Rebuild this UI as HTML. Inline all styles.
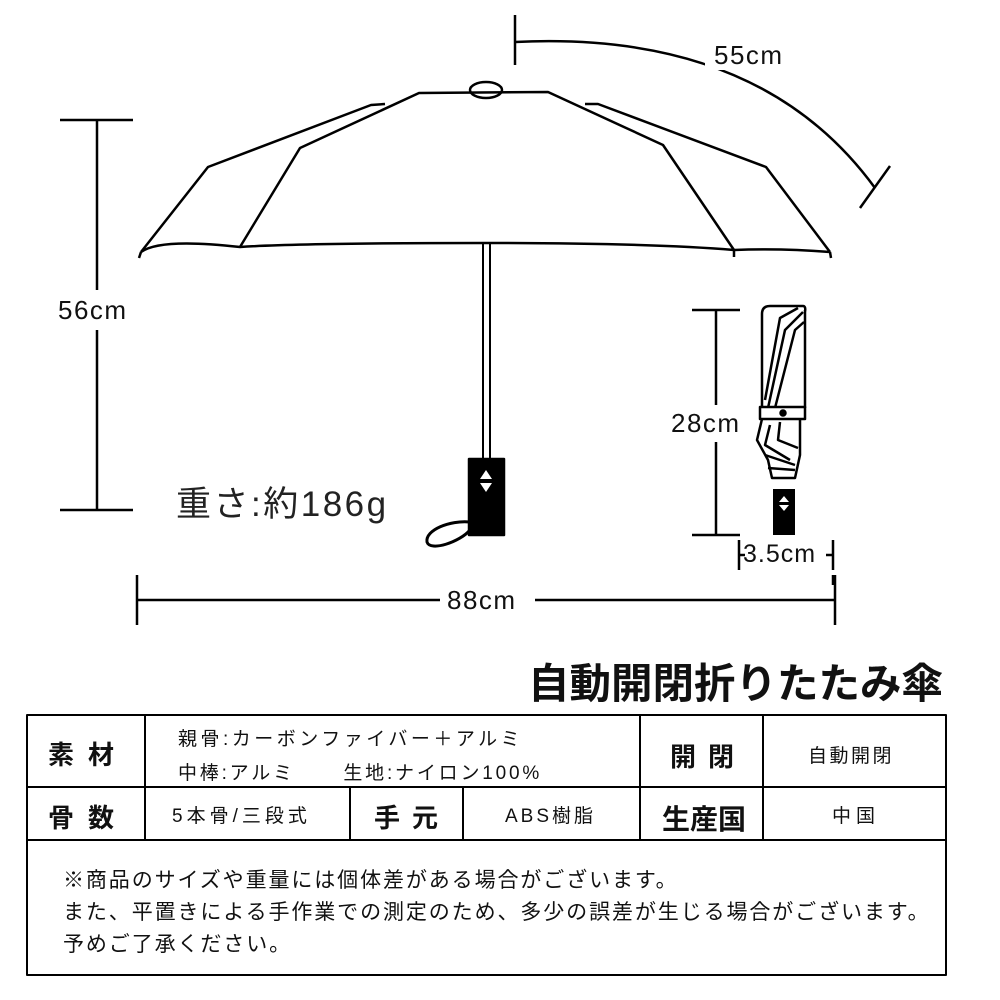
<!DOCTYPE html>
<html><head><meta charset="utf-8"><style>
body{margin:0;width:1000px;height:1000px;background:#fff;position:relative;overflow:hidden;font-family:"Liberation Sans","Noto Sans CJK JP",sans-serif;color:#111}
.t{position:absolute;white-space:nowrap}
svg{position:absolute;left:0;top:0}
.d{font-size:26px;letter-spacing:1.5px}
.c{font-size:19px;letter-spacing:2.5px}
.h{font-size:26px;font-weight:bold}
</style></head><body>
<svg width="1000" height="1000" viewBox="0 0 1000 1000" fill="none" stroke="#000" stroke-width="2.5" stroke-linejoin="round">
<ellipse cx="486" cy="90" rx="16" ry="8" fill="#fff"/>
<path d="M141,252 L208,167 L371,105 L385,104"/>
<path d="M240,247 L300,148 L419,93 L548,92 L663,145 L734,250"/>
<path d="M585,104 L598,104 L766,167 L830,252"/>
<path d="M141,252 Q160,238 240,247 Q300,243 486,243 Q650,243 734,250 Q780,248 830,252"/>
<path d="M141,252 l-2,6 M734,250 l0,7 M830,252 l1,6"/>
<path d="M483,244 V460 M490,244 V460" stroke-width="2"/>
<rect x="469" y="459" width="35" height="76" fill="#000"/>
<path d="M480,479 l6,-9 l6,9z M480,483 l6,9 l6,-9z" fill="#fff" stroke="none"/>
<path d="M470,522 C450,520 425,530 427,542 C430,552 460,542 470,530" stroke-width="3"/>
<path d="M515,15 V65"/>
<path d="M515,42 Q760,30 875,188" stroke-width="2.5"/>
<path d="M860,208 L890,166"/>
<rect x="705" y="38" width="95" height="32" fill="#fff" stroke="none"/>
<path d="M60,120 H133 M60,510 H133 M97,120 V290 M97,330 V510"/>
<path d="M137,575 V625 M835,575 V625 M137,600 H440 M535,600 H835"/>
<path d="M692,310 H740 M692,535 H740 M716,310 V405 M716,442 V535"/>
<path d="M739,540 V570 M833,540 V570 M739,555 H745 M826,555 H833 M833,575 V585"/>
<path d="M770,306 Q762,306 762,314 L762,408 M805,310 L805,408 M770,306 H803 Q806,306 805,312"/>
<path d="M768,408 L785,330 L803,312 M775,408 L795,330 L804,322 M765,400 L780,318 L798,308"/>
<rect x="760" y="407" width="45" height="12" fill="#fff"/>
<circle cx="783" cy="413" r="2.5" fill="#000"/>
<path d="M762,419 L757,440 L768,460 L772,478 L795,478 L800,455 L800,419"/>
<path d="M770,425 L765,445 L790,460 M780,422 L778,440 L798,448 M765,455 L795,465 M768,468 L795,470"/>
<rect x="773" y="489" width="22" height="46" fill="#000" stroke="none"/>
<path d="M779,502 l5,-6 l5,6z M779,505 l5,6 l5,-6z" fill="#fff" stroke="none"/>
<g stroke-width="2">
<rect x="27" y="715" width="919" height="260"/>
<path d="M27,787 H946 M27,840 H946 M145,715 V840 M640,715 V840 M763,715 V840 M350,787 V840 M463,787 V840"/>
</g>
</svg>
<div class="t d" style="left:714px;top:40px">55cm</div>
<div class="t d" style="left:58px;top:295px">56cm</div>
<div class="t d" style="left:447px;top:585px">88cm</div>
<div class="t d" style="left:671px;top:408px">28cm</div>
<div class="t" style="left:743px;top:540px;font-size:25px;letter-spacing:1px">3.5cm</div>
<div class="t" style="left:176px;top:476px;font-size:35px;letter-spacing:2.5px;color:#222">重さ:約186g</div>
<div class="t" style="left:528px;top:650px;font-size:41.5px;font-weight:bold">自動開閉折りたたみ傘</div>
<div class="t h" style="left:48px;top:735px;letter-spacing:14px">素材</div>
<div class="t c" style="left:178px;top:724px;letter-spacing:3.5px">親骨:カーボンファイバー＋アルミ</div>
<div class="t c" style="left:178px;top:758px;letter-spacing:2.8px">中棒:アルミ&nbsp;&nbsp;&nbsp;&nbsp;&nbsp;&nbsp;生地:ナイロン100%</div>
<div class="t h" style="left:670px;top:737px;letter-spacing:12px">開閉</div>
<div class="t c" style="left:808px;top:741px">自動開閉</div>
<div class="t h" style="left:48px;top:798px;letter-spacing:14px">骨数</div>
<div class="t c" style="left:172px;top:801px;letter-spacing:4px">5本骨/三段式</div>
<div class="t h" style="left:374px;top:798px;letter-spacing:12px">手元</div>
<div class="t c" style="left:505px;top:801px;letter-spacing:3px">ABS樹脂</div>
<div class="t h" style="left:662px;top:798px;font-size:28px">生産国</div>
<div class="t c" style="left:832px;top:801px;letter-spacing:5px">中国</div>
<div class="t" style="left:63px;top:865px;font-size:21px;letter-spacing:1.9px;line-height:32px">※商品のサイズや重量には個体差がある場合がございます。<br>また、平置きによる手作業での測定のため、多少の誤差が生じる場合がございます。<br>予めご了承ください。</div>
</body></html>
